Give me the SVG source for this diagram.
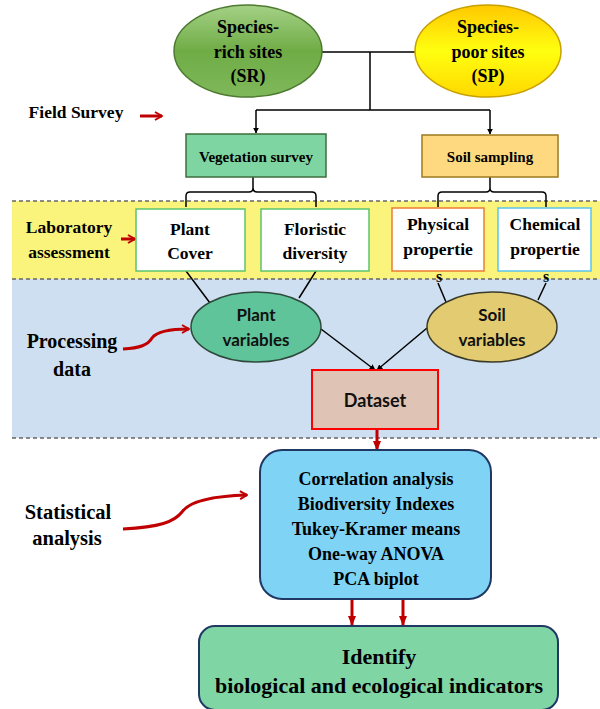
<svg xmlns="http://www.w3.org/2000/svg" width="600" height="709" viewBox="0 0 600 709">
<defs>
<linearGradient id="gSR" x1="0" y1="0" x2="0" y2="1">
<stop offset="0" stop-color="#a5d186"/><stop offset="0.5" stop-color="#6fac46"/><stop offset="1" stop-color="#7fb85a"/>
</linearGradient>
<linearGradient id="gSP" x1="0" y1="0" x2="0" y2="1">
<stop offset="0" stop-color="#ffc800"/><stop offset="0.5" stop-color="#ffff10"/><stop offset="1" stop-color="#ffd800"/>
</linearGradient>
<marker id="ah" viewBox="0 0 10 10" refX="9" refY="5" markerWidth="6" markerHeight="6" orient="auto" markerUnits="userSpaceOnUse">
<path d="M0,0 L10,5 L0,10 z" fill="#000"/>
</marker>
<marker id="rh" viewBox="0 0 10 10" refX="9" refY="5" markerWidth="10" markerHeight="10" orient="auto" markerUnits="userSpaceOnUse">
<path d="M0,1 L10,5 L0,9 z" fill="#c00000"/>
</marker>
<marker id="ro" viewBox="0 0 10 10" refX="9" refY="5" markerWidth="10" markerHeight="10" orient="auto" markerUnits="userSpaceOnUse">
<path d="M2,1 L9,5 L2,9" fill="none" stroke="#c00000" stroke-width="2"/>
</marker>
</defs>
<style>
.t{font-family:"Liberation Serif","Times New Roman",serif;font-weight:bold;fill:#000;text-anchor:middle}
.s{font-family:Lato,"Liberation Sans",sans-serif;font-weight:bold;fill:#111;text-anchor:middle}
.lbl{font-family:"Liberation Serif","Times New Roman",serif;font-weight:bold;fill:#000;text-anchor:middle;font-size:17.5px}
.dash{stroke:#666;stroke-width:1.5;stroke-dasharray:4 3;fill:none}
.ln{stroke:#000;stroke-width:1.5;fill:none}
.red{stroke:#c00000;stroke-width:3;fill:none}
</style>

<g id="bands">
<rect x="12" y="201" width="588" height="78" fill="#fbf47c"/>
<rect x="12" y="279" width="588" height="159" fill="#cddff0"/>
<line class="dash" x1="12" y1="201" x2="600" y2="201"/>
<line class="dash" x1="12" y1="279" x2="600" y2="279"/>
<line class="dash" x1="12" y1="438" x2="600" y2="438"/>
</g>

<g id="labels">
<text class="lbl" x="76" y="118">Field Survey</text>
<text class="lbl" x="69" y="233">Laboratory</text>
<text class="lbl" x="69" y="258">assessment</text>
<text class="lbl" x="72" y="348" style="font-size:20px">Processing</text>
<text class="lbl" x="72" y="376" style="font-size:20px">data</text>
<text class="lbl" x="68" y="519" style="font-size:20.5px">Statistical</text>
<text class="lbl" x="67" y="545" style="font-size:20.5px">analysis</text>
</g>

<g id="connectors">
<path class="ln" d="M322,52 H415 M370,52 V110 M256,110 H490"/>
<path class="ln" d="M256,110 V133" marker-end="url(#ah)"/>
<path class="ln" d="M490,110 V134" marker-end="url(#ah)"/>
<path class="ln" d="M186,207 V196 Q186,192 190,192 H249 Q253,192 253,188 V177 M253,188 Q253,192 257,192 H312 Q316,192 316,196 V207"/>
<path class="ln" d="M438,207 V196 Q438,192 442,192 H486 Q490,192 490,188 V177 M490,188 Q490,192 494,192 H542 Q546,192 546,196 V207"/>
<path class="ln" d="M186,271 L210,303 M316,271 L299,298 M438,283 L446,302 M546,283 L538,300"/>
<path class="ln" d="M321,329 L375,370" marker-end="url(#ah)"/>
<path class="ln" d="M427,328 L377,370" marker-end="url(#ah)"/>
<path class="red" d="M377,429 V450" marker-end="url(#rh)"/>
<path class="red" d="M352,599 V625" marker-end="url(#rh)"/>
<path class="red" d="M403,599 V625" marker-end="url(#rh)"/>
<path class="red" stroke-width="2" d="M140,116 H162" marker-end="url(#ro)"/>
<path class="red" stroke-width="3" d="M121,239 H135" marker-end="url(#ro)"/>
<path class="red" stroke-width="2.5" d="M123,349 C140,348 148,345 152,338 C157,331 170,329 189,329" marker-end="url(#ro)"/>
<path class="red" stroke-width="2.5" d="M123,529 C160,527 174,522 182,512 C190,500 215,496 247,495" marker-end="url(#ro)"/>
</g>

<g id="SR">
<ellipse cx="248" cy="51" rx="74" ry="46" fill="url(#gSR)" stroke="#4e7a30" stroke-width="1.5"/>
<text class="t" x="248" y="33" font-size="18">Species-</text>
<text class="t" x="248" y="58" font-size="18">rich sites</text>
<text class="t" x="248" y="82" font-size="18">(SR)</text>
</g>
<g id="SP">
<ellipse cx="488" cy="51" rx="73" ry="46" fill="url(#gSP)" stroke="#c8a000" stroke-width="1.5"/>
<text class="t" x="488" y="33" font-size="18">Species-</text>
<text class="t" x="488" y="58" font-size="18">poor sites</text>
<text class="t" x="488" y="82" font-size="18">(SP)</text>
</g>

<g id="vegetation">
<rect x="186" y="134" width="140" height="43" fill="#7fd5a2" stroke="#3c6e3c" stroke-width="1.5"/>
<text class="t" x="256" y="162" font-size="15">Vegetation survey</text>
</g>
<g id="soil">
<rect x="422" y="135" width="136" height="42" fill="#ffd97f" stroke="#9c7a1c" stroke-width="1.5"/>
<text class="t" x="490" y="162" font-size="15">Soil sampling</text>
</g>

<g id="plantcover">
<rect x="136" y="209" width="109" height="62" fill="#fff" stroke="#5cc46c" stroke-width="1.5"/>
<text class="t" x="190" y="235" font-size="17.5">Plant</text>
<text class="t" x="190" y="259" font-size="17.5">Cover</text>
</g>
<g id="floristic">
<rect x="261" y="209" width="108" height="62" fill="#fff" stroke="#5cc46c" stroke-width="1.5"/>
<text class="t" x="315" y="235" font-size="17.5">Floristic</text>
<text class="t" x="315" y="259" font-size="17.5">diversity</text>
</g>
<g id="physical">
<rect x="392" y="208" width="92" height="63" fill="#fff" stroke="#ed7d31" stroke-width="1.5"/>
<text class="t" x="438" y="230" font-size="17.5">Physical</text>
<text class="t" x="438" y="255" font-size="17.5">propertie</text>
<text class="t" x="439" y="282" font-size="16">s</text>
</g>
<g id="chemical">
<rect x="498" y="208" width="93" height="63" fill="#fff" stroke="#5bc4ec" stroke-width="1.5"/>
<text class="t" x="545" y="230" font-size="17.5">Chemical</text>
<text class="t" x="545" y="255" font-size="17.5">propertie</text>
<text class="t" x="546" y="282" font-size="16">s</text>
</g>

<g id="plantvars">
<ellipse cx="256" cy="327" rx="65" ry="35" fill="#5fc49a" stroke="#2e4a3c" stroke-width="1.5"/>
<text class="s" x="256" y="321" font-size="17">Plant</text>
<text class="s" x="256" y="346" font-size="17">variables</text>
</g>
<g id="soilvars">
<ellipse cx="492" cy="327" rx="65" ry="35" fill="#e2cb70" stroke="#3a3a2a" stroke-width="1.5"/>
<text class="s" x="492" y="321" font-size="17">Soil</text>
<text class="s" x="492" y="346" font-size="17">variables</text>
</g>

<g id="dataset">
<rect x="312" y="370" width="126" height="59" fill="#dfc3b4" stroke="#ff0000" stroke-width="2"/>
<text class="s" x="375" y="407" font-size="18">Dataset</text>
</g>

<g id="stats">
<rect x="260" y="450" width="231" height="149" rx="22" fill="#7fd4f6" stroke="#203864" stroke-width="2"/>
<text class="t" x="376" y="485" font-size="18">Correlation analysis</text>
<text class="t" x="376" y="510" font-size="18">Biodiversity Indexes</text>
<text class="t" x="376" y="535" font-size="18">Tukey-Kramer means</text>
<text class="t" x="376" y="560" font-size="18">One-way ANOVA</text>
<text class="t" x="376" y="585" font-size="18">PCA biplot</text>
</g>

<g id="identify">
<rect x="199" y="626" width="359" height="84" rx="16" fill="#80d5a5" stroke="#203864" stroke-width="2"/>
<text class="t" x="379" y="664" font-size="22">Identify</text>
<text class="t" x="379" y="693" font-size="22">biological and ecological indicators</text>
</g>
</svg>
